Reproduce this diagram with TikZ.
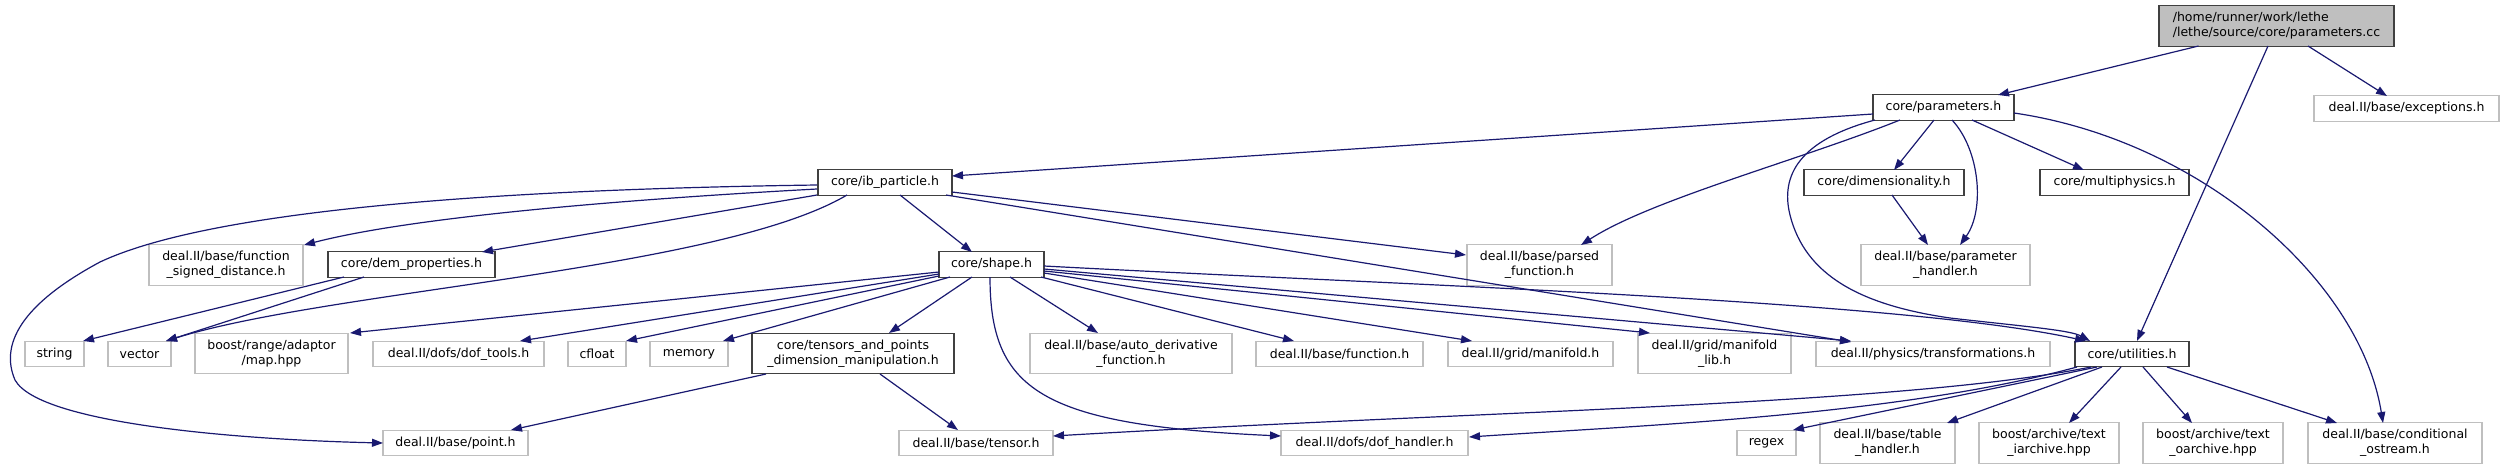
\documentclass[tikz,border=0pt]{standalone}
\usepackage{fontspec}
\setmainfont{DejaVu Sans}
\usetikzlibrary{arrows.meta}
\definecolor{edgec}{HTML}{191970}
\definecolor{extc}{HTML}{BFBFBF}
\definecolor{corec}{HTML}{404040}
\begin{document}
\begin{tikzpicture}[x=1pt,y=-1pt,
  nd/.style={rectangle,inner sep=0pt,line width=1.3pt,fill=white,font=\fontsize{12.5}{15}\selectfont,align=center},
  core/.style={nd,draw=corec},
  ext/.style={nd,draw=extc},
  rootn/.style={nd,draw=corec,fill=extc,align=left},
  h1/.style={minimum height=25.5pt},
  h2/.style={minimum height=40.5pt},
  dep/.style={draw=edgec,line width=1.2pt,-{Triangle[length=11pt,width=8pt]}}]
\useasboundingbox (0,0) rectangle (2504,469);
% nodes
\node[rootn,h2,minimum width=235pt] (root) at (2276.5,26) {/home/runner/work/lethe\\/lethe/source/core/parameters.cc};
\node[core,h1,minimum width=141pt] (params) at (1943.5,107.5) {core/parameters.h};
\node[ext,h1,minimum width=185pt] (exc) at (2406.5,108.5) {deal.II/base/exceptions.h};
\node[core,h1,minimum width=134pt] (ib) at (885,182.5) {core/ib\_particle.h};
\node[core,h1,minimum width=160pt] (dim) at (1884,182.5) {core/dimensionality.h};
\node[core,h1,minimum width=149pt] (mp) at (2114.5,182.5) {core/multiphysics.h};
\node[ext,h2,minimum width=154pt] (fsd) at (226,265) {deal.II/base/function\\\_signed\_distance.h};
\node[core,h1,minimum width=167pt] (dem) at (411.5,264.5) {core/dem\_properties.h};
\node[core,h1,minimum width=105pt] (shape) at (991.5,264.5) {core/shape.h};
\node[ext,h2,minimum width=145pt] (parsed) at (1539.5,265) {deal.II/base/parsed\\\_function.h};
\node[ext,h2,minimum width=169pt] (ph) at (1945.5,265) {deal.II/base/parameter\\\_handler.h};
\node[ext,h1,minimum width=59pt] (string) at (54.5,354) {string};
\node[ext,h1,minimum width=63pt] (vector) at (139.5,354) {vector};
\node[ext,h2,minimum width=153pt] (map) at (271.5,353.5) {boost/range/adaptor\\/map.hpp};
\node[ext,h1,minimum width=171pt] (doftools) at (458.5,354) {deal.II/dofs/dof\_tools.h};
\node[ext,h1,minimum width=58pt] (cfloat) at (597,354) {cfloat};
\node[ext,h1,minimum width=78pt] (memory) at (689,354) {memory};
\node[core,h2,minimum width=202pt] (tensors) at (853,353.5) {core/tensors\_and\_points\\\_dimension\_manipulation.h};
\node[ext,h2,minimum width=202pt] (autod) at (1131,353.5) {deal.II/base/auto\_derivative\\\_function.h};
\node[ext,h1,minimum width=167pt] (func) at (1339.5,354) {deal.II/base/function.h};
\node[ext,h1,minimum width=165pt] (manif) at (1530.5,354) {deal.II/grid/manifold.h};
\node[ext,h2,minimum width=153pt] (maniflib) at (1714.5,353.5) {deal.II/grid/manifold\\\_lib.h};
\node[ext,h1,minimum width=234pt] (transf) at (1933,354) {deal.II/physics/transformations.h};
\node[core,h1,minimum width=114pt] (util) at (2132,354) {core/utilities.h};
\node[ext,h1,minimum width=145pt] (point) at (455.5,443) {deal.II/base/point.h};
\node[ext,h1,minimum width=154pt] (tensor) at (976,443) {deal.II/base/tensor.h};
\node[ext,h1,minimum width=187pt] (dofh) at (1374.5,443) {deal.II/dofs/dof\_handler.h};
\node[ext,h1,minimum width=59pt] (regex) at (1766.5,443) {regex};
\node[ext,h2,minimum width=135pt] (table) at (1887.5,443) {deal.II/base/table\\\_handler.h};
\node[ext,h2,minimum width=140pt] (iarch) at (2049,443) {boost/archive/text\\\_iarchive.hpp};
\node[ext,h2,minimum width=140pt] (oarch) at (2213,443) {boost/archive/text\\\_oarchive.hpp};
\node[ext,h2,minimum width=174pt] (cond) at (2395,443) {deal.II/base/conditional\\\_ostream.h};
% edges from root
\draw[dep] ([shift={(-78,20)}]root.center) -- ([shift={(54.5,-12.5)}]params.center);
\draw[dep] ([shift={(31.5,20)}]root.center) -- ([shift={(-19.5,-12.5)}]exc.center);
\draw[dep] ([shift={(-8.5,20)}]root.center) -- ([shift={(5,-13)}]util.center);
% edges from parameters.h
\draw[dep] ([shift={(-70.5,6.5)}]params.center) -- ([shift={(67,-6.5)}]ib.center);
\draw[dep] ([shift={(-9.5,12.5)}]params.center) -- ([shift={(10,-12.5)}]dim.center);
\draw[dep] ([shift={(28.5,12.5)}]params.center) -- ([shift={(-30.5,-12.5)}]mp.center);
\draw[dep] ([shift={(8.5,12.5)}]params.center) .. controls (1980,150) and (1985,210) .. ([shift={(14.5,-20)}]ph.center);
\draw[dep] ([shift={(-43.5,12.5)}]params.center) .. controls (1800,160) and (1650,200) .. ([shift={(41.5,-20)}]parsed.center);
\draw[dep] ([shift={(-68.5,12.5)}]params.center) .. controls (1800,140) and (1780,175) .. (1790,215)
   .. controls (1805,275) and (1860,305) .. (1950,318) .. controls (2020,326) and (2070,330) .. ([shift={(-42,-13)}]util.center);
\draw[dep] ([shift={(70.5,5.5)}]params.center) .. controls (2200,140) and (2360,280) .. ([shift={(-12,-20)}]cond.center);
% dimensionality
\draw[dep] ([shift={(8,12.5)}]dim.center) -- ([shift={(-17.5,-20)}]ph.center);
% ib_particle
\draw[dep] ([shift={(-68,6.5)}]ib.center) .. controls (650,198) and (420,215) .. ([shift={(78,-20)}]fsd.center);
\draw[dep] ([shift={(-68,12.5)}]ib.center) -- ([shift={(70.5,-12.5)}]dem.center);
\draw[dep] ([shift={(-38,12.5)}]ib.center) .. controls (720,270) and (330,290) .. ([shift={(26.5,-13)}]vector.center);
\draw[dep] ([shift={(-68,2.5)}]ib.center) .. controls (450,190) and (200,215) .. (100,262)
   .. controls (20,305) and (0,345) .. (15,380) .. controls (40,425) and (250,440) .. ([shift={(-72.5,0)}]point.center);
\draw[dep] ([shift={(15,12.5)}]ib.center) -- ([shift={(-19.5,-12.5)}]shape.center);
\draw[dep] ([shift={(67,9.5)}]ib.center) -- ([shift={(-73.5,-10)}]parsed.center);
\draw[dep] ([shift={(61,12.5)}]ib.center) -- ([shift={(-82,-12)}]transf.center);
% dem_properties
\draw[dep] ([shift={(-67.5,12.5)}]dem.center) -- ([shift={(28.5,-13)}]string.center);
\draw[dep] ([shift={(-47.5,12.5)}]dem.center) -- ([shift={(26.5,-13)}]vector.center);
% shape
\draw[dep] ([shift={(-52.5,7.5)}]shape.center) -- ([shift={(78.5,-20.5)}]map.center);
\draw[dep] ([shift={(-52.5,9.5)}]shape.center) -- ([shift={(61.5,-13)}]doftools.center);
\draw[dep] ([shift={(-52.5,11.5)}]shape.center) -- ([shift={(29,-13)}]cfloat.center);
\draw[dep] ([shift={(-41.5,12.5)}]shape.center) -- ([shift={(34,-13)}]memory.center);
\draw[dep] ([shift={(-19.5,12.5)}]shape.center) -- ([shift={(36,-20.5)}]tensors.center);
\draw[dep] ([shift={(18.5,12.5)}]shape.center) -- ([shift={(-33,-20.5)}]autod.center);
\draw[dep] ([shift={(49.5,12.5)}]shape.center) -- ([shift={(-45.5,-13)}]func.center);
\draw[dep] ([shift={(52.5,8.5)}]shape.center) -- ([shift={(-58.5,-13)}]manif.center);
\draw[dep] ([shift={(52.5,6.5)}]shape.center) -- ([shift={(-64.5,-20.5)}]maniflib.center);
\draw[dep] ([shift={(52.5,4.5)}]shape.center) -- ([shift={(-82,-13)}]transf.center);
\draw[dep] ([shift={(52.5,1.5)}]shape.center) .. controls (1400,285) and (1900,300) .. ([shift={(-46,-13)}]util.center);
\draw[dep] ([shift={(-1.5,12.5)}]shape.center) .. controls (990,390) and (1040,425) .. ([shift={(-93.5,-7)}]dofh.center);
% tensors_and_points
\draw[dep] ([shift={(-87,20.5)}]tensors.center) -- ([shift={(55.5,-13)}]point.center);
\draw[dep] ([shift={(27,20.5)}]tensors.center) -- ([shift={(-18,-13)}]tensor.center);
% utilities
\draw[dep] ([shift={(-35,13)}]util.center) -- ([shift={(26.5,-13)}]regex.center);
\draw[dep] ([shift={(-30,13)}]util.center) -- ([shift={(59.5,-20)}]table.center);
\draw[dep] ([shift={(-11,13)}]util.center) -- ([shift={(20,-20)}]iarch.center);
\draw[dep] ([shift={(11,13)}]util.center) -- ([shift={(-21,-20)}]oarch.center);
\draw[dep] ([shift={(35,13)}]util.center) -- ([shift={(-58,-20)}]cond.center);
\draw[dep] ([shift={(-41,13)}]util.center) .. controls (1900,405) and (1500,410) .. ([shift={(77,-7)}]tensor.center);
\draw[dep] ([shift={(-55,13)}]util.center) .. controls (1900,415) and (1650,425) .. ([shift={(94.5,-6)}]dofh.center);
\end{tikzpicture}
\end{document}
